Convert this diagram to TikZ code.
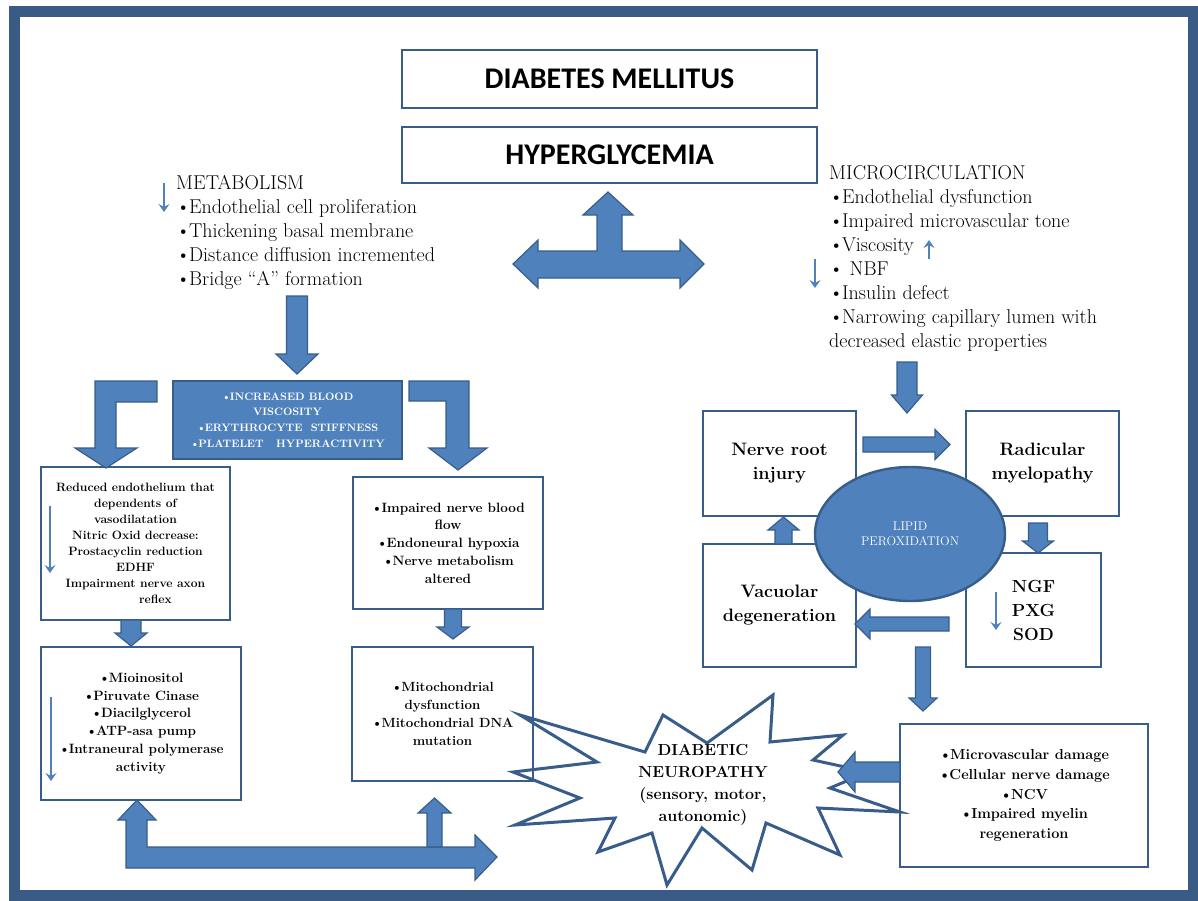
\documentclass[tikz,border=0pt]{standalone}
\usepackage{fontspec}
\newfontfamily\calibri{Carlito}
\usetikzlibrary{arrows.meta,calc,shapes.geometric}

\definecolor{framecol}{HTML}{3B5B87}
\definecolor{arrowfill}{HTML}{4F81BD}
\definecolor{arrowline}{HTML}{385D8A}

\newcommand\bul{\textbullet\kern-1.5pt}

% fat block arrow: tail, tip, half shaft, half head, head length
\newcommand\fatarrow[5]{%
  \filldraw[blockarrow] let \p1=(#1), \p2=(#2), \n1={veclen(\x2-\x1,\y2-\y1)},
    \n2={(\x2-\x1)/\n1}, \n3={(\y2-\y1)/\n1} in
    ({\x1-(#3)*(\n3)},{\y1+(#3)*(\n2)})
    -- ({\x2-(#5)*(\n2)-(#3)*(\n3)},{\y2-(#5)*(\n3)+(#3)*(\n2)})
    -- ({\x2-(#5)*(\n2)-(#4)*(\n3)},{\y2-(#5)*(\n3)+(#4)*(\n2)})
    -- (\p2)
    -- ({\x2-(#5)*(\n2)+(#4)*(\n3)},{\y2-(#5)*(\n3)-(#4)*(\n2)})
    -- ({\x2-(#5)*(\n2)+(#3)*(\n3)},{\y2-(#5)*(\n3)-(#3)*(\n2)})
    -- ({\x1+(#3)*(\n3)},{\y1-(#3)*(\n2)}) -- cycle;}

\begin{document}
\begin{tikzpicture}[x=1pt,y=-1pt,
        every node/.style={inner sep=0pt,align=center},
        box/.style={draw=arrowline,line width=2.4pt},
        bluebox/.style={box,fill=arrowfill,text=white},
        blockarrow/.style={fill=arrowfill,draw=arrowline,line width=1.2pt},
        thinarrow/.style={draw=arrowfill,line width=2pt,-{Stealth[length=8pt,width=11pt,inset=3pt]}},
        txt/.style={align=left,font=\fontsize{20}{24}\selectfont},
        topfont/.style={font=\calibri\bfseries\fontsize{30}{36}\selectfont}]
    \useasboundingbox (0,0) rectangle (1198,900);
    \draw[draw=framecol,line width=11pt] (14,11) rectangle (1193,895);

    % star
    \draw[draw=arrowline,line width=3pt]
        (520,715) -- (645,752) -- (663,715) -- (707,743) -- (773,695) -- (770,742)
        -- (843,735) -- (813,760) -- (868,772) -- (830,788) -- (900,812) -- (818,808)
        -- (840,855) -- (766,823) -- (752,870) -- (702,828) -- (667,885) -- (652,833)
        -- (598,852) -- (615,818) -- (515,825) -- (580,798) -- (513,772) -- (597,762) -- cycle;
    \node[font=\bfseries\fontsize{16}{22}\selectfont] (neuro) at (703,785)
        {DIABETIC\\NEUROPATHY\\(sensory, motor,\\autonomic)};

    \node[box,topfont,minimum width=415pt,minimum height=58pt] (dm) at (609.5,79) {DIABETES MELLITUS};
    \node[box,topfont,minimum width=415pt,minimum height=56pt] (hyp) at (609.5,155) {HYPERGLYCEMIA};

    \node[txt,anchor=north west] (meta) at (176,175) {METABOLISM\\
        \bul Endothelial cell proliferation\\
        \bul Thickening basal membrane\\
        \bul Distance diffusion incremented\\
        \bul Bridge ``A'' formation};
    \node[txt,anchor=north west] (micro) at (829,165) {MICROCIRCULATION\\
        \bul Endothelial dysfunction\\
        \bul Impaired microvascular tone\\
        \bul Viscosity\\
        \textbullet\ NBF\\
        \bul Insulin defect\\
        \bul Narrowing capillary lumen with\\
        decreased elastic properties};

    \node[bluebox,minimum width=229pt,minimum height=78pt,font=\bfseries\fontsize{10.8}{15.7}\selectfont]
        (visc) at (287.5,420) {\bul INCREASED BLOOD\\VISCOSITY\\
        \bul ERYTHROCYTE\ \ STIFFNESS\\\bul PLATELET\ \ \ HYPERACTIVITY};

    \node[box,minimum width=189pt,minimum height=153pt,font=\bfseries\fontsize{12.1}{16}\selectfont]
        (endo) at (135.5,543.5) {Reduced endothelium that\\dependents of\\vasodilatation\\
        Nitric Oxid decrease:\\Prostacyclin reduction\\EDHF\\Impairment nerve axon\\
        \hspace*{40pt}reflex};
    \node[box,minimum width=190pt,minimum height=132pt,font=\bfseries\fontsize{13.5}{17.7}\selectfont]
        (flow) at (448,543) {\bul Impaired nerve blood\\flow\\
        \bul Endoneural hypoxia\\\bul Nerve metabolism\\altered};
    \node[box,minimum width=200pt,minimum height=153pt,font=\bfseries\fontsize{13.5}{17.8}\selectfont]
        (mio) at (141,723.5) {\bul Mioinositol\\\bul Piruvate Cinase\\
        \bul Diacilglycerol\\\bul ATP-asa pump\\
        \bul Intraneural polymerase\\activity};
    \node[box,minimum width=181pt,minimum height=134pt,font=\bfseries\fontsize{13.3}{18}\selectfont]
        (mito) at (442.5,714) {\bul Mitochondrial\\dysfunction\\
        \bul Mitochondrial DNA\\mutation};

    \node[box,minimum width=153pt,minimum height=105pt,font=\bfseries\fontsize{18}{24}\selectfont]
        (root) at (779.5,463.5) {Nerve root\\injury};
    \node[box,minimum width=153pt,minimum height=105pt,font=\bfseries\fontsize{18}{24}\selectfont]
        (radic) at (1042.5,463.5) {Radicular\\myelopathy};
    \node[box,minimum width=153pt,minimum height=123pt,font=\bfseries\fontsize{18}{24}\selectfont]
        (vac) at (779.5,605.5) {Vacuolar\\degeneration};
    \node[box,minimum width=135pt,minimum height=114pt,font=\bfseries\fontsize{17.5}{24}\selectfont]
        (ngf) at (1033.5,610) {NGF\\PXG\\SOD};
    \node[box,minimum width=248pt,minimum height=143pt,font=\bfseries\fontsize{14.5}{19.7}\selectfont]
        (damage) at (1024,795.5) {\bul Microvascular damage\\\bul Cellular nerve damage\\
        \bul NCV\\\bul Impaired myelin\\regeneration};
    \node[ellipse,draw=arrowline,line width=2.4pt,fill=arrowfill,text=white,
        minimum width=190pt,minimum height=134pt,font=\fontsize{12.6}{15}\selectfont]
        (lipid) at (910,534) {LIPID\\PEROXIDATION};

    % block arrows
    \filldraw[blockarrow] (608,192) -- (633,215) -- (622,215) -- (622,251) -- (680,251)
        -- (680,240) -- (704,264) -- (680,288) -- (680,278) -- (538,278) -- (538,288)
        -- (513,264) -- (538,240) -- (538,251) -- (597,251) -- (597,215) -- (583,215) -- cycle;
    \filldraw[blockarrow] (157,381) -- (95,381) -- (95,448) -- (75,448) -- (106,468)
        -- (137,448) -- (116,448) -- (116,402) -- (157,402) -- cycle;
    \filldraw[blockarrow] (409,381) -- (469,381) -- (469,448) -- (487,448) -- (458,470)
        -- (429,448) -- (446,448) -- (446,401) -- (409,401) -- cycle;
    \filldraw[blockarrow] (137,800) -- (156,820) -- (147,820) -- (147,847) -- (475,847)
        -- (475,835) -- (497,857) -- (475,880) -- (475,868) -- (126,868) -- (126,820)
        -- (118,820) -- cycle;
    \fatarrow{434.5,847}{434.5,798}{7.5}{16.5}{15}
    \fatarrow{297,296}{297,374}{10.5}{21}{20}
    \fatarrow{131,620}{131,646}{10}{16}{13}
    \fatarrow{453,609}{453,639}{8.5}{16}{12}
    \fatarrow{907,362}{907,413}{10}{15.5}{18}
    \fatarrow{863,444.5}{950,444.5}{7.5}{15}{15}
    \fatarrow{1038,523}{1038,553}{9.5}{15.5}{12}
    \fatarrow{949,624}{855,624}{7}{15}{15}
    \fatarrow{783.5,544}{783.5,517}{8.5}{15.5}{13}
    \fatarrow{923,647}{923,711}{7.5}{14}{13}
    \fatarrow{900,772}{838,772}{10}{20}{17}

    % thin arrows
    \draw[thinarrow] (164,183) -- (164,212);
    \draw[thinarrow] (929,259) -- (929,240);
    \draw[thinarrow] (815,259) -- (815,288);
    \draw[thinarrow] (50,506) -- (50,573);
    \draw[thinarrow] (51,697) -- (51,781);
    \draw[thinarrow] (996,592) -- (996,630);
\end{tikzpicture}
\end{document}
